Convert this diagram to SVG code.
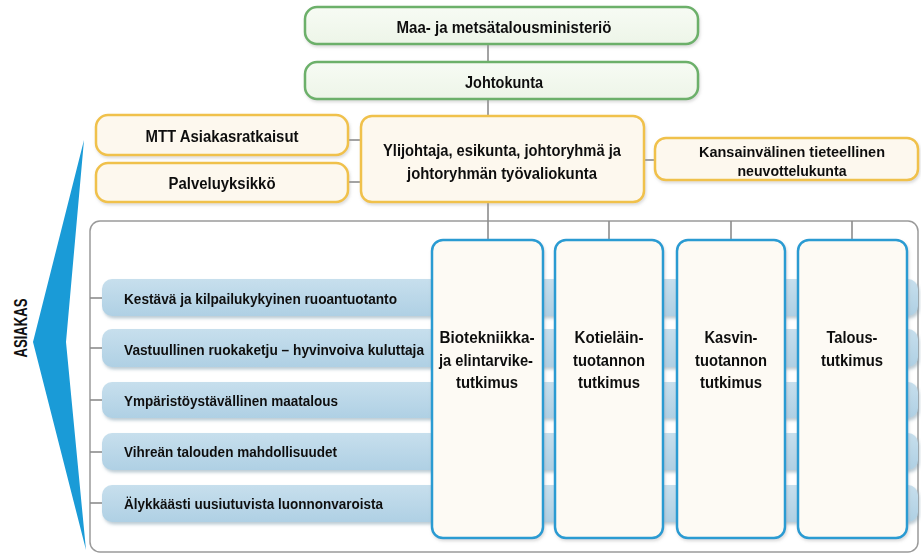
<svg xmlns="http://www.w3.org/2000/svg" width="921" height="555" viewBox="0 0 921 555">
<defs>
<style>
text{font-family:"Liberation Sans Narrow","Liberation Sans",Arial,sans-serif;font-weight:bold;fill:#111;}
.c{text-anchor:middle;}
.green{fill:url(#gg);stroke:#6cb06a;stroke-width:2.5;}
.yellow{fill:#fdf8ee;stroke:#f0c14b;stroke-width:2.5;}
.col{fill:#fdfaf4;stroke:#2a9bd2;stroke-width:2.5;}
.bar{fill:url(#bg);}
.ln{stroke:#8c8c8c;stroke-width:1.6;fill:none;}
.t16{font-size:16px;}
.t17{font-size:17px;}
.t15{font-size:15px;}
.tb{font-size:15px;}
.t18{font-size:17px;}
</style>
<linearGradient id="gg" x1="0" y1="0" x2="0" y2="1"><stop offset="0" stop-color="#f7fbf4"/><stop offset="1" stop-color="#edf5e8"/></linearGradient>
<linearGradient id="bg" x1="0" y1="0" x2="0" y2="1"><stop offset="0" stop-color="#c7dfed"/><stop offset="1" stop-color="#afd0e4"/></linearGradient>
<filter id="sh" x="-5%" y="-20%" width="110%" height="150%"><feDropShadow dx="1.5" dy="2.5" stdDeviation="1.5" flood-color="#6f8fa3" flood-opacity="0.45"/></filter>
<filter id="sh2" x="-5%" y="-20%" width="110%" height="150%"><feDropShadow dx="1" dy="2" stdDeviation="1.5" flood-color="#999" flood-opacity="0.35"/></filter>
</defs>
<rect width="921" height="555" fill="#fff"/>

<g id="asiakas">
<polygon points="84,140 33,342 86,550 66,342" fill="#1a9bd7"/>
<text class="c" transform="translate(27,328) rotate(-90)" font-size="19" textLength="59" lengthAdjust="spacingAndGlyphs">ASIAKAS</text>
</g>

<g id="container">
<rect x="90" y="221" width="828" height="331" rx="10" fill="#fff" stroke="#9a9a9a" stroke-width="1.5"/>
</g>

<g id="connectors">
<line class="ln" x1="488" y1="44" x2="488" y2="62"/>
<line class="ln" x1="488" y1="99" x2="488" y2="116"/>
<line class="ln" x1="488" y1="202" x2="488" y2="221"/>
<line class="ln" x1="348" y1="140" x2="361" y2="140"/>
<line class="ln" x1="348" y1="182" x2="361" y2="182"/>
<line class="ln" x1="644" y1="160" x2="655" y2="160"/>
<line class="ln" x1="488" y1="221" x2="488" y2="240"/>
<line class="ln" x1="609" y1="221" x2="609" y2="240"/>
<line class="ln" x1="731" y1="221" x2="731" y2="240"/>
<line class="ln" x1="852" y1="221" x2="852" y2="240"/>
<line class="ln" x1="90" y1="298" x2="102" y2="298"/>
<line class="ln" x1="90" y1="348" x2="102" y2="348"/>
<line class="ln" x1="90" y1="400" x2="102" y2="400"/>
<line class="ln" x1="90" y1="452" x2="102" y2="452"/>
<line class="ln" x1="90" y1="503" x2="102" y2="503"/>
</g>

<g id="ministerio" filter="url(#sh2)">
<rect class="green" x="305" y="7" width="393" height="37" rx="12"/>
<text class="c t16" x="504" y="33" textLength="215" lengthAdjust="spacingAndGlyphs">Maa- ja metsätalousministeriö</text>
</g>
<g id="johtokunta" filter="url(#sh2)">
<rect class="green" x="305" y="62" width="393" height="37" rx="12"/>
<text class="c t16" x="504" y="88" textLength="78" lengthAdjust="spacingAndGlyphs">Johtokunta</text>
</g>
<g id="ylijohtaja" filter="url(#sh2)">
<rect class="yellow" x="361" y="116" width="283" height="86" rx="11"/>
<text class="c t17" x="502" y="156" textLength="238" lengthAdjust="spacingAndGlyphs">Ylijohtaja, esikunta, johtoryhmä ja</text>
<text class="c t17" x="502" y="179" textLength="190" lengthAdjust="spacingAndGlyphs">johtoryhmän työvaliokunta</text>
</g>
<g id="mtt" filter="url(#sh2)">
<rect class="yellow" x="96" y="115" width="252" height="40" rx="12"/>
<text class="c t16" x="222" y="142" textLength="153" lengthAdjust="spacingAndGlyphs">MTT Asiakasratkaisut</text>
</g>
<g id="palvelu" filter="url(#sh2)">
<rect class="yellow" x="96" y="163" width="252" height="39" rx="12"/>
<text class="c t16" x="222" y="189" textLength="107" lengthAdjust="spacingAndGlyphs">Palveluyksikkö</text>
</g>
<g id="kansainvalinen" filter="url(#sh2)">
<rect class="yellow" x="655" y="138" width="263" height="42" rx="11"/>
<text class="c t15" x="792" y="157" textLength="186" lengthAdjust="spacingAndGlyphs">Kansainvälinen tieteellinen</text>
<text class="c t15" x="792" y="176" textLength="109" lengthAdjust="spacingAndGlyphs">neuvottelukunta</text>
</g>

<g id="bar1" filter="url(#sh)">
<rect class="bar" x="102" y="279" width="816" height="37" rx="10"/>
<text class="tb" x="124" y="304" textLength="273" lengthAdjust="spacingAndGlyphs">Kestävä ja kilpailukykyinen ruoantuotanto</text>
</g>
<g id="bar2" filter="url(#sh)">
<rect class="bar" x="102" y="329" width="816" height="38" rx="10"/>
<text class="tb" x="124" y="355" textLength="300" lengthAdjust="spacingAndGlyphs">Vastuullinen ruokaketju – hyvinvoiva kuluttaja</text>
</g>
<g id="bar3" filter="url(#sh)">
<rect class="bar" x="102" y="382" width="816" height="36" rx="10"/>
<text class="tb" x="124" y="406" textLength="214" lengthAdjust="spacingAndGlyphs">Ympäristöystävällinen maatalous</text>
</g>
<g id="bar4" filter="url(#sh)">
<rect class="bar" x="102" y="433" width="816" height="37" rx="10"/>
<text class="tb" x="124" y="457" textLength="213" lengthAdjust="spacingAndGlyphs">Vihreän talouden mahdollisuudet</text>
</g>
<g id="bar5" filter="url(#sh)">
<rect class="bar" x="102" y="485" width="816" height="37" rx="10"/>
<text class="tb" x="124" y="509" textLength="259" lengthAdjust="spacingAndGlyphs">Älykkäästi uusiutuvista luonnonvaroista</text>
</g>

<g id="col1" filter="url(#sh2)">
<rect class="col" x="432" y="240" width="111" height="298" rx="11"/>
<text class="c t18" x="487" y="343" textLength="95" lengthAdjust="spacingAndGlyphs">Biotekniikka-</text>
<text class="c t18" x="486" y="366" textLength="94" lengthAdjust="spacingAndGlyphs">ja elintarvike-</text>
<text class="c t18" x="487" y="388" textLength="62" lengthAdjust="spacingAndGlyphs">tutkimus</text>
</g>
<g id="col2" filter="url(#sh2)">
<rect class="col" x="555" y="240" width="108" height="298" rx="11"/>
<text class="c t18" x="609" y="343" textLength="69" lengthAdjust="spacingAndGlyphs">Kotieläin-</text>
<text class="c t18" x="609" y="366" textLength="72" lengthAdjust="spacingAndGlyphs">tuotannon</text>
<text class="c t18" x="609" y="388" textLength="62" lengthAdjust="spacingAndGlyphs">tutkimus</text>
</g>
<g id="col3" filter="url(#sh2)">
<rect class="col" x="677" y="240" width="108" height="298" rx="11"/>
<text class="c t18" x="731" y="343" textLength="53" lengthAdjust="spacingAndGlyphs">Kasvin-</text>
<text class="c t18" x="731" y="366" textLength="72" lengthAdjust="spacingAndGlyphs">tuotannon</text>
<text class="c t18" x="731" y="388" textLength="62" lengthAdjust="spacingAndGlyphs">tutkimus</text>
</g>
<g id="col4" filter="url(#sh2)">
<rect class="col" x="798" y="240" width="109" height="298" rx="11"/>
<text class="c t18" x="852" y="343" textLength="51" lengthAdjust="spacingAndGlyphs">Talous-</text>
<text class="c t18" x="852" y="366" textLength="62" lengthAdjust="spacingAndGlyphs">tutkimus</text>
</g>
</svg>
